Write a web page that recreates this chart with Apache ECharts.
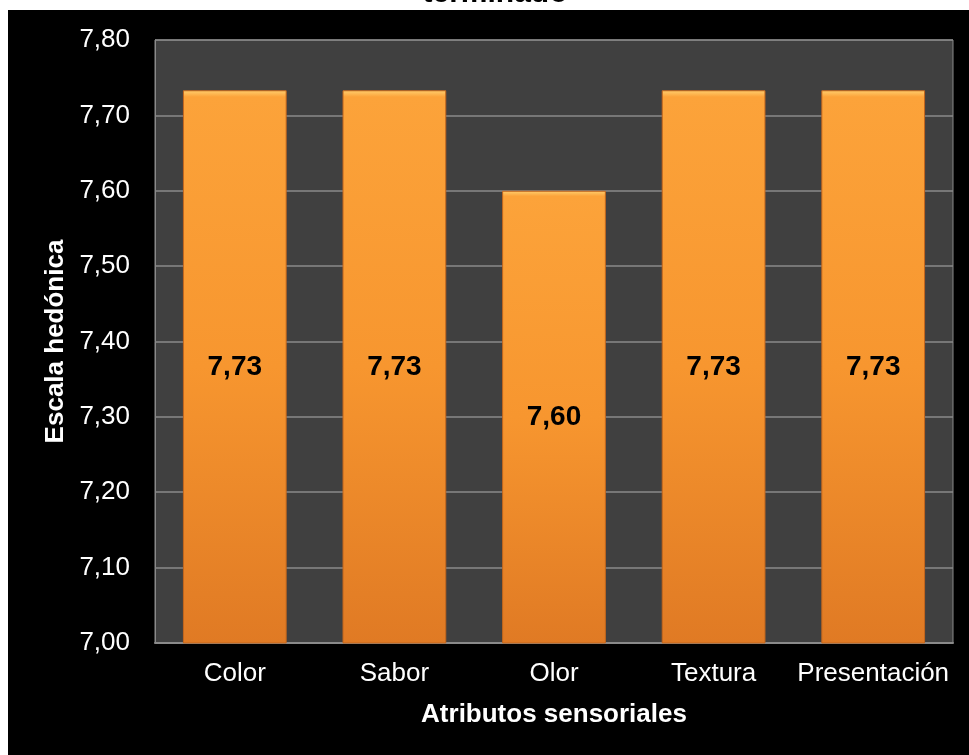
<!DOCTYPE html>
<html>
<head>
<meta charset="utf-8">
<script src="https://cdn.jsdelivr.net/npm/echarts@6/dist/echarts.min.js"></script>
<style>
html,body{margin:0;padding:0;background:#fff;width:969px;height:755px;overflow:hidden;}
#bg{position:absolute;left:8px;top:10px;right:0;bottom:0;background:#000;}
#chart{position:absolute;left:0;top:0;width:969px;height:755px;}
</style>
</head>
<body>
<div id="bg"></div>
<div id="chart"></div>
<script>
const categories = ['Color', 'Sabor', 'Olor', 'Textura', 'Presentación'];
const values = [7.7333, 7.7333, 7.60, 7.7333, 7.7333];
const titleText = 'terminado';
const yName = 'Escala hedónica';
const xName = 'Atributos sensoriales';

const chart = echarts.init(document.getElementById('chart'), null, {renderer: 'canvas'});
const fmt = v => v.toFixed(2).replace('.', ',');
chart.setOption({
  backgroundColor: 'transparent',
  animation: false,
  graphic: [{
    type: 'text',
    x: 495, y: -6,
    z: 10,
    style: {
      text: titleText, textAlign: 'center', textVerticalAlign: 'middle',
      font: 'bold 30px "Liberation Sans"', fill: '#000'
    }
  }],
  grid: {
    left: 155, right: 16, top: 40, bottom: 112,
    show: true, backgroundColor: '#404040', borderColor: '#8a8a8a', borderWidth: 1
  },
  xAxis: {
    type: 'category',
    data: categories,
    name: xName,
    nameLocation: 'middle',
    nameGap: 59,
    nameTextStyle: {fontFamily: 'Liberation Sans', fontWeight: 'bold', fontSize: 26, color: '#fff'},
    axisLine: {lineStyle: {color: '#8a8a8a', width: 2}},
    axisTick: {show: false},
    axisLabel: {interval: 0, fontFamily: 'Liberation Sans', fontSize: 26, color: '#fff', margin: 18}
  },
  yAxis: {
    type: 'value',
    min: 7.0, max: 7.8, interval: 0.1,
    name: yName,
    nameLocation: 'middle',
    nameGap: 82,
    nameRotate: 90,
    nameTextStyle: {fontFamily: 'Liberation Sans', fontWeight: 'bold', fontSize: 26, color: '#fff'},
    axisLine: {show: true, lineStyle: {color: '#8a8a8a'}},
    axisTick: {show: false},
    axisLabel: {fontFamily: 'Liberation Sans', fontSize: 26, color: '#fff', margin: 25, formatter: fmt},
    splitLine: {lineStyle: {color: '#8a8a8a', width: 1.5}}
  },
  series: [{
    type: 'bar',
    data: values,
    barWidth: '65%',
    itemStyle: {
      color: new echarts.graphic.LinearGradient(0, 0, 0, 1, [
        {offset: 0, color: '#ffd070'},
        {offset: 0.012, color: '#fca33a'},
        {offset: 0.5, color: '#f7962f'},
        {offset: 1, color: '#e07a24'}
      ]),
      borderColor: '#c4661c',
      borderWidth: 1
    },
    label: {
      show: true,
      position: 'inside',
      formatter: p => fmt(p.value),
      fontFamily: 'Liberation Sans', fontWeight: 'bold', fontSize: 28, color: '#000'
    }
  }]
});
</script>
</body>
</html>
